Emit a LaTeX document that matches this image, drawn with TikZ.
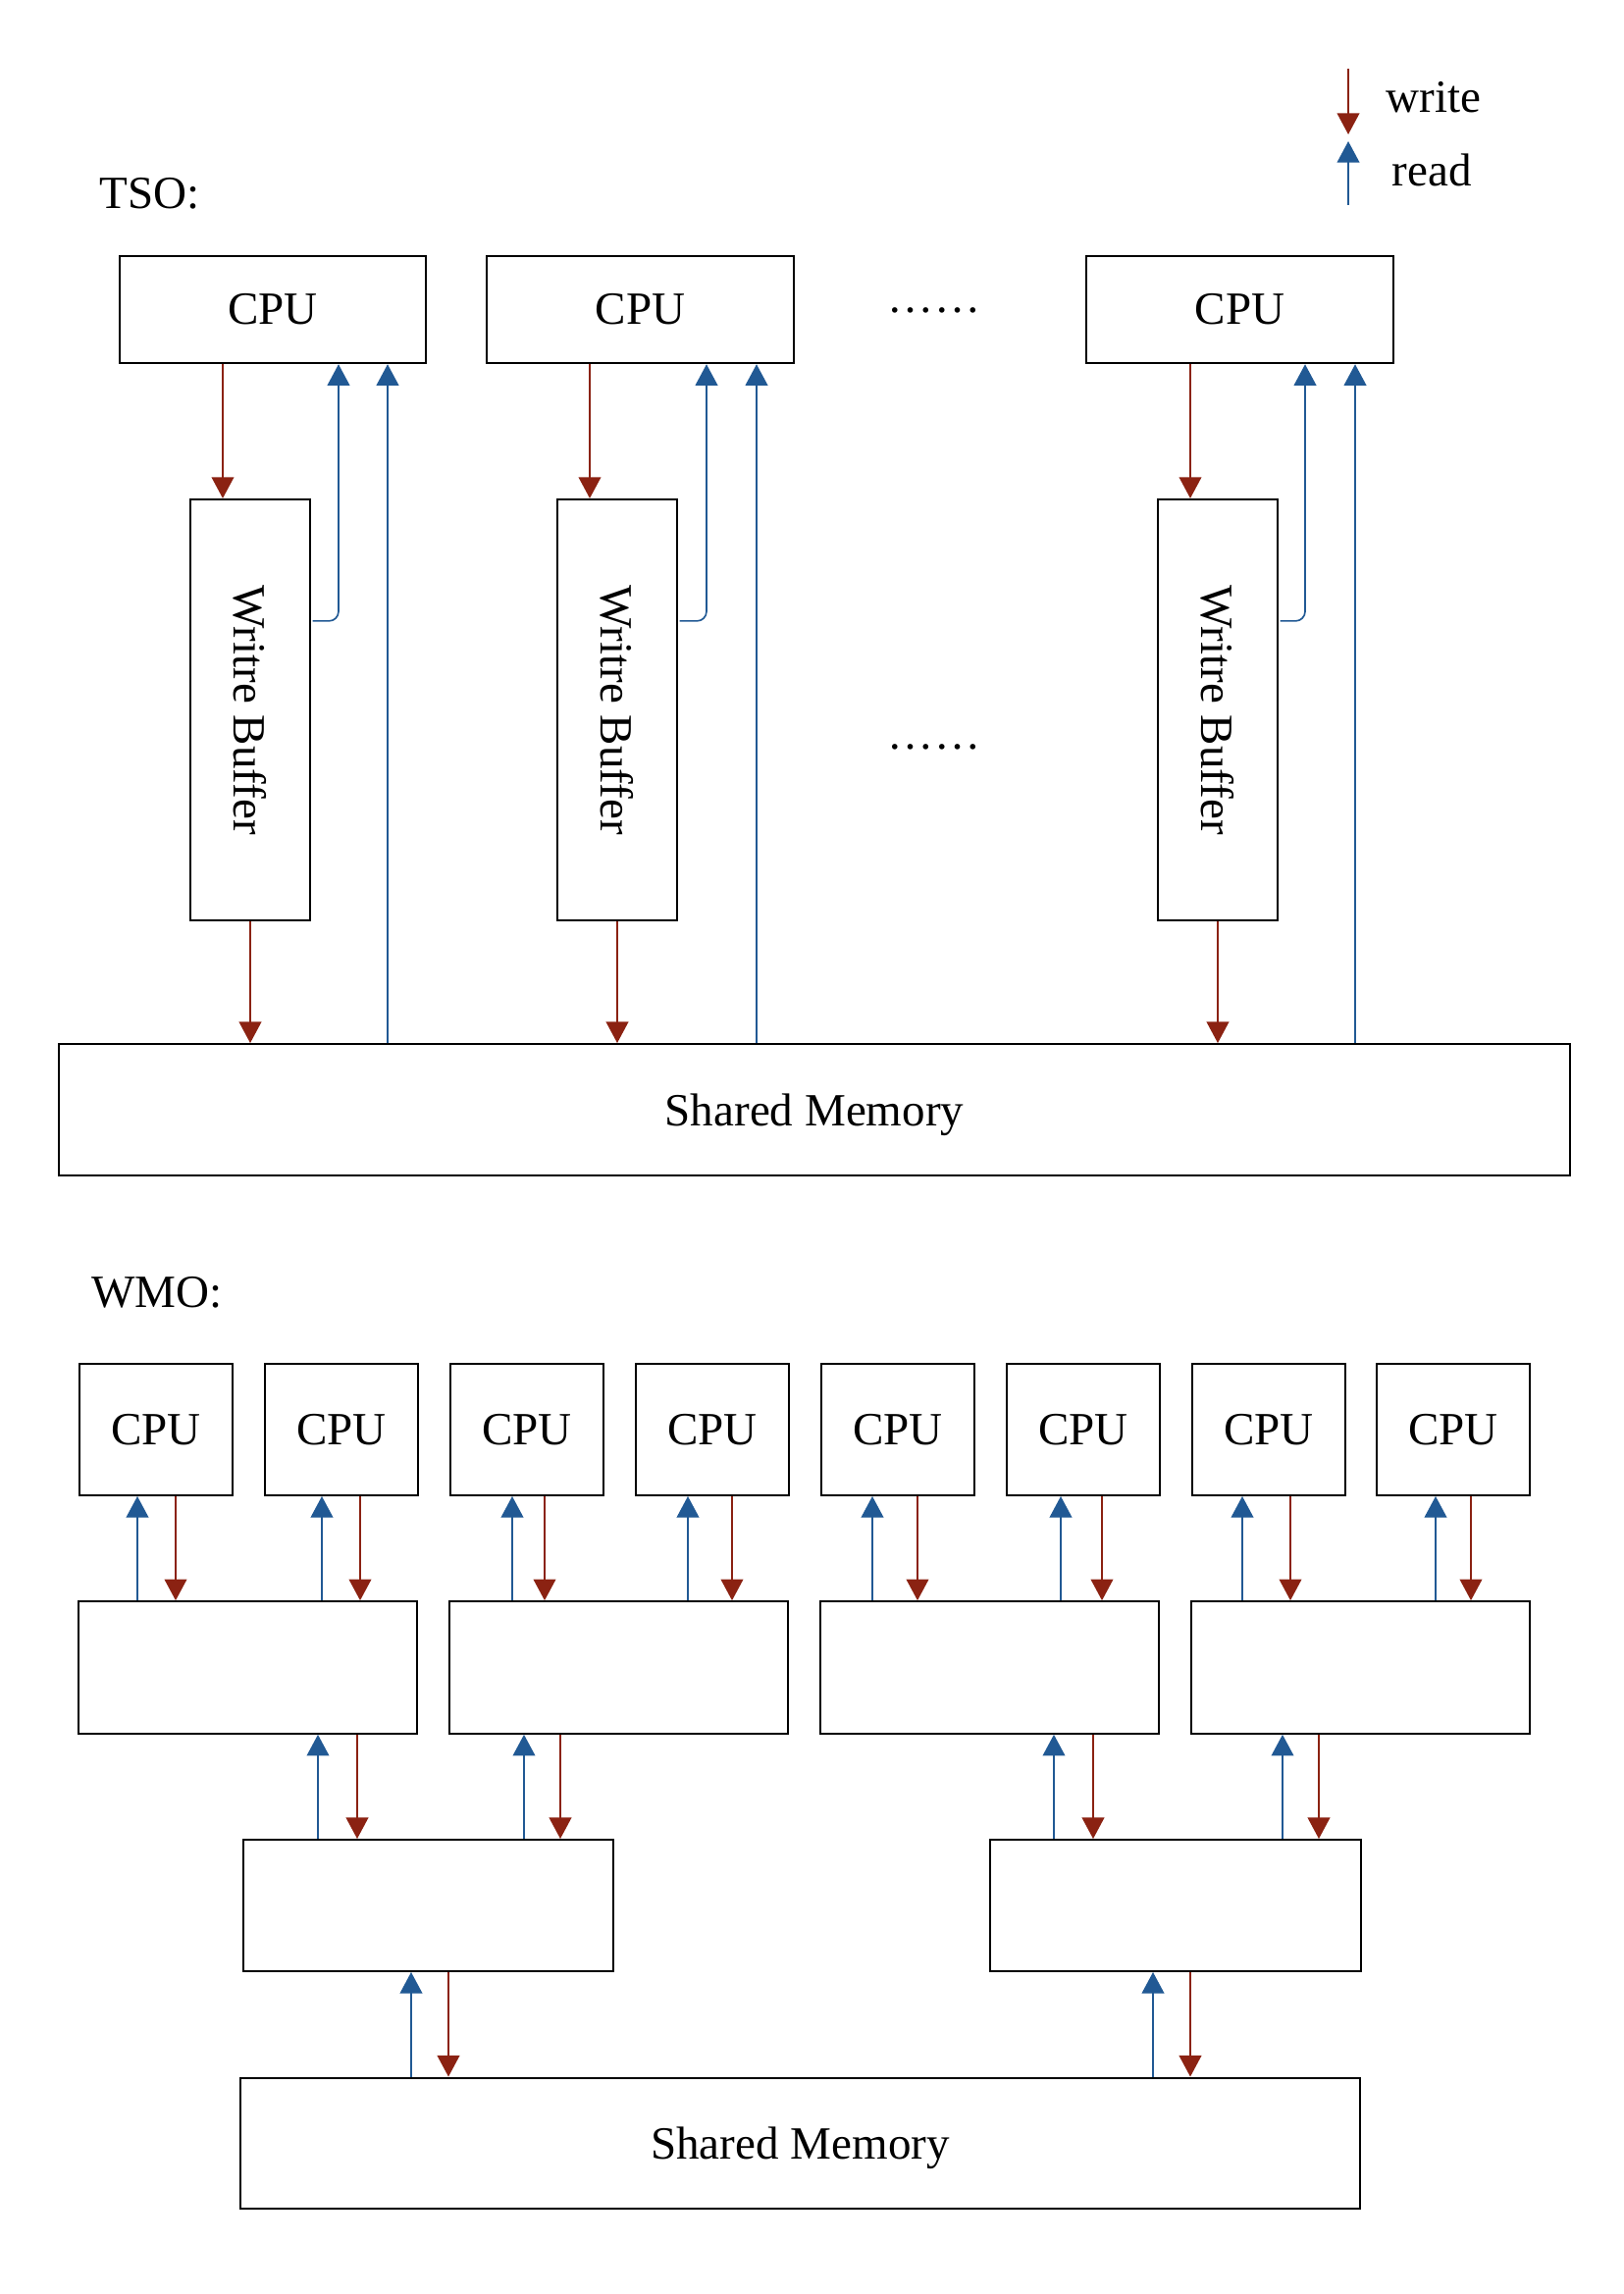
\documentclass[tikz,border=0pt]{standalone}
\usepackage{fontspec}
\setmainfont{Liberation Serif}
\usetikzlibrary{arrows.meta,calc}
\definecolor{wrcol}{RGB}{139,34,18}
\definecolor{rdcol}{RGB}{33,89,148}

\begin{document}
\begin{tikzpicture}[x=0.127mm, y=-0.127mm,
  every node/.style={font=\fontsize{17}{20}\selectfont},
  unit/.style={draw, rectangle, line width=0.75pt, inner sep=0pt},
  tsocpu/.style={unit, minimum width=39.7mm, minimum height=13.9mm},
  wbuf/.style={unit, minimum width=15.4mm, minimum height=54.5mm},
  wmocpu/.style={unit, minimum width=19.9mm, minimum height=17mm},
  lonebox/.style={unit, minimum width=43.8mm, minimum height=17.1mm},
  ltwobox/.style={unit, minimum width=47.9mm, minimum height=17mm},
  membox/.style={unit, minimum height=17mm, text depth=0pt},
  tag/.style={anchor=base west, inner sep=0pt},
  wr/.style={-{Triangle[length=7.8pt,width=8.2pt]}, line width=0.6pt, wrcol},
  rd/.style={-{Triangle[length=7.8pt,width=8.2pt]}, line width=0.6pt, rdcol}]
\useasboundingbox (0,0) rectangle (1654,2338);

% legend
\coordinate (wtop) at (1374,70);
\coordinate (wbot) at (1374,137);
\coordinate (rbot) at (1374,209);
\coordinate (rtop) at (1374,144);
\draw[wr] (wtop) -- (wbot);
\draw[rd] (rbot) -- (rtop);
\node[tag] (wlab) at (1412,115) {write};
\node[tag] (rlab) at (1418,190) {read};

% TSO
\node[tag] (tso) at (101,213) {TSO:};
\node[tsocpu] (cpu1) at (278,315.5) {CPU};
\node[tsocpu] (cpu2) at (652.5,315.5) {CPU};
\node[tsocpu] (cpu3) at (1263.5,315.5) {CPU};
\node (dotsA) at (952,316) {……};
\node[wbuf] (wb1) at (255,723.5) {\rotatebox{-90}{Writre Buffer}};
\node[wbuf] (wb2) at (629,723.5) {\rotatebox{-90}{Writre Buffer}};
\node[wbuf] (wb3) at (1241,723.5) {\rotatebox{-90}{Writre Buffer}};
\node (dotsB) at (952,761) {……};
\node[membox, minimum width=195.6mm] (mem) at (830,1131) {Shared Memory};

\draw[wr] (cpu1.south -| 227,0) -- (wb1.north -| 227,0);
\draw[wr] (wb1.south) -- (wb1.south |- mem.north);
\draw[rd, rounded corners=3.5pt] ($(wb1.north east)+(2,125)$) -| (cpu1.south -| 345,0);
\draw[rd] (mem.north -| 395,0) -- (cpu1.south -| 395,0);

\draw[wr] (cpu2.south -| 601,0) -- (wb2.north -| 601,0);
\draw[wr] (wb2.south) -- (wb2.south |- mem.north);
\draw[rd, rounded corners=3.5pt] ($(wb2.north east)+(2,125)$) -| (cpu2.south -| 720,0);
\draw[rd] (mem.north -| 771,0) -- (cpu2.south -| 771,0);

\draw[wr] (cpu3.south -| 1213,0) -- (wb3.north -| 1213,0);
\draw[wr] (wb3.south) -- (wb3.south |- mem.north);
\draw[rd, rounded corners=3.5pt] ($(wb3.north east)+(2,125)$) -| (cpu3.south -| 1330,0);
\draw[rd] (mem.north -| 1381,0) -- (cpu3.south -| 1381,0);

% WMO
\node[tag] (wmo) at (93,1332) {WMO:};
\node[wmocpu] (c1) at (159,1457) {CPU};
\node[wmocpu] (c2) at (348,1457) {CPU};
\node[wmocpu] (c3) at (537,1457) {CPU};
\node[wmocpu] (c4) at (726,1457) {CPU};
\node[wmocpu] (c5) at (915,1457) {CPU};
\node[wmocpu] (c6) at (1104,1457) {CPU};
\node[wmocpu] (c7) at (1293,1457) {CPU};
\node[wmocpu] (c8) at (1481,1457) {CPU};
\node[lonebox] (la) at (252.5,1699.5) {};
\node[lonebox] (lb) at (630.5,1699.5) {};
\node[lonebox] (lc) at (1008.5,1699.5) {};
\node[lonebox] (ld) at (1386.5,1699.5) {};
\node[ltwobox] (ma) at (436.5,1942) {};
\node[ltwobox] (mb) at (1198,1942) {};
\node[membox, minimum width=144.9mm] (smem) at (815.5,2184.5) {Shared Memory};

\draw[rd] (la.north -| 140,0) -- (c1.south -| 140,0);
\draw[wr] (c1.south -| 179,0) -- (la.north -| 179,0);
\draw[rd] (la.north -| 328,0) -- (c2.south -| 328,0);
\draw[wr] (c2.south -| 367,0) -- (la.north -| 367,0);
\draw[rd] (lb.north -| 522,0) -- (c3.south -| 522,0);
\draw[wr] (c3.south -| 555,0) -- (lb.north -| 555,0);
\draw[rd] (lb.north -| 701,0) -- (c4.south -| 701,0);
\draw[wr] (c4.south -| 746,0) -- (lb.north -| 746,0);
\draw[rd] (lc.north -| 889,0) -- (c5.south -| 889,0);
\draw[wr] (c5.south -| 935,0) -- (lc.north -| 935,0);
\draw[rd] (lc.north -| 1081,0) -- (c6.south -| 1081,0);
\draw[wr] (c6.south -| 1123,0) -- (lc.north -| 1123,0);
\draw[rd] (ld.north -| 1266,0) -- (c7.south -| 1266,0);
\draw[wr] (c7.south -| 1315,0) -- (ld.north -| 1315,0);
\draw[rd] (ld.north -| 1463,0) -- (c8.south -| 1463,0);
\draw[wr] (c8.south -| 1499,0) -- (ld.north -| 1499,0);

\draw[rd] (ma.north -| 324,0) -- (la.south -| 324,0);
\draw[wr] (la.south -| 364,0) -- (ma.north -| 364,0);
\draw[rd] (ma.north -| 534,0) -- (lb.south -| 534,0);
\draw[wr] (lb.south -| 571,0) -- (ma.north -| 571,0);
\draw[rd] (mb.north -| 1074,0) -- (lc.south -| 1074,0);
\draw[wr] (lc.south -| 1114,0) -- (mb.north -| 1114,0);
\draw[rd] (mb.north -| 1307,0) -- (ld.south -| 1307,0);
\draw[wr] (ld.south -| 1344,0) -- (mb.north -| 1344,0);

\draw[rd] (smem.north -| 419,0) -- (ma.south -| 419,0);
\draw[wr] (ma.south -| 457,0) -- (smem.north -| 457,0);
\draw[rd] (smem.north -| 1175,0) -- (mb.south -| 1175,0);
\draw[wr] (mb.south -| 1213,0) -- (smem.north -| 1213,0);

\end{tikzpicture}
\end{document}
